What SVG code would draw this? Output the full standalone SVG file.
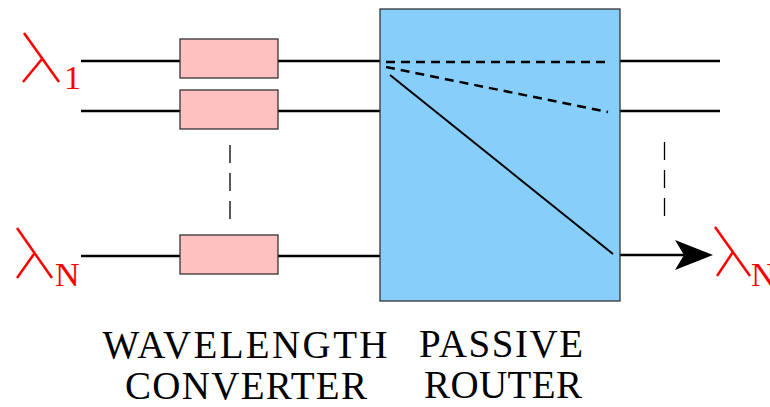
<svg xmlns="http://www.w3.org/2000/svg" width="770" height="407" viewBox="0 0 770 407">
<style>
.ln{stroke:#000;stroke-width:2.5;fill:none}
.dl{stroke:#000;stroke-width:2.5;fill:none;stroke-dasharray:9,6}
.vd{stroke:#000;stroke-width:1.3;fill:none;stroke-dasharray:18,10}
.conv{fill:#ffc0c0;stroke:#333;stroke-width:1.3}
.router{fill:#87cefa;stroke:#333;stroke-width:1.3}
.lam{stroke:#f00;stroke-width:2.5;fill:none}
.sub{fill:#f00;font-family:"Liberation Serif",serif;font-size:34px}
.lbl{fill:#000;font-family:"Liberation Serif",serif;font-size:39px;text-anchor:middle}
</style>
<g id="connectors">
<line class="ln" x1="81" y1="61" x2="180" y2="61"/>
<line class="ln" x1="278" y1="61" x2="380" y2="61"/>
<line class="ln" x1="81" y1="111" x2="180" y2="111"/>
<line class="ln" x1="278" y1="111" x2="380" y2="111"/>
<line class="ln" x1="81" y1="256" x2="180" y2="256"/>
<line class="ln" x1="278" y1="256" x2="380" y2="256"/>
<line class="ln" x1="620" y1="61" x2="720" y2="61"/>
<line class="ln" x1="620" y1="111" x2="720" y2="111"/>
<line class="ln" x1="620" y1="255" x2="685" y2="255"/>
<path d="M713,255 L675,240 L684,255 L675,270 Z" fill="#000"/>
<line class="vd" x1="230" y1="145" x2="230" y2="221"/>
<line class="vd" x1="664.5" y1="142" x2="664.5" y2="217"/>
</g>
<g id="conv1"><rect class="conv" x="180" y="39" width="98" height="39"/></g>
<g id="conv2"><rect class="conv" x="180" y="90" width="98" height="39"/></g>
<g id="conv3"><rect class="conv" x="180" y="235" width="98" height="39"/></g>
<g id="router">
<rect class="router" x="380" y="9" width="240" height="292"/>
<line class="dl" x1="386" y1="62" x2="611" y2="62"/>
<line class="dl" x1="386" y1="67" x2="608" y2="112"/>
<line class="ln" x1="390" y1="75" x2="613" y2="254" style="stroke-width:2"/>
</g>
<g id="lambda1">
<line class="lam" x1="24" y1="33" x2="59" y2="82"/>
<line class="lam" x1="42" y1="59" x2="23" y2="82"/>
<text class="sub" x="64" y="89">1</text>
</g>
<g id="lambdaN">
<line class="lam" x1="17" y1="228" x2="52" y2="278"/>
<line class="lam" x1="34" y1="254" x2="17" y2="278"/>
<text class="sub" x="55" y="286">N</text>
</g>
<g id="lambdaNout">
<line class="lam" x1="715" y1="227" x2="750" y2="276"/>
<line class="lam" x1="733" y1="252" x2="717" y2="276"/>
<text class="sub" x="751" y="286">N</text>
</g>
<g id="labels">
<text class="lbl" x="245" y="358" textLength="285">WAVELENGTH</text>
<text class="lbl" x="246" y="399" textLength="242">CONVERTER</text>
<text class="lbl" x="501" y="357" textLength="164">PASSIVE</text>
<text class="lbl" x="503" y="398" textLength="158">ROUTER</text>
</g>
</svg>
